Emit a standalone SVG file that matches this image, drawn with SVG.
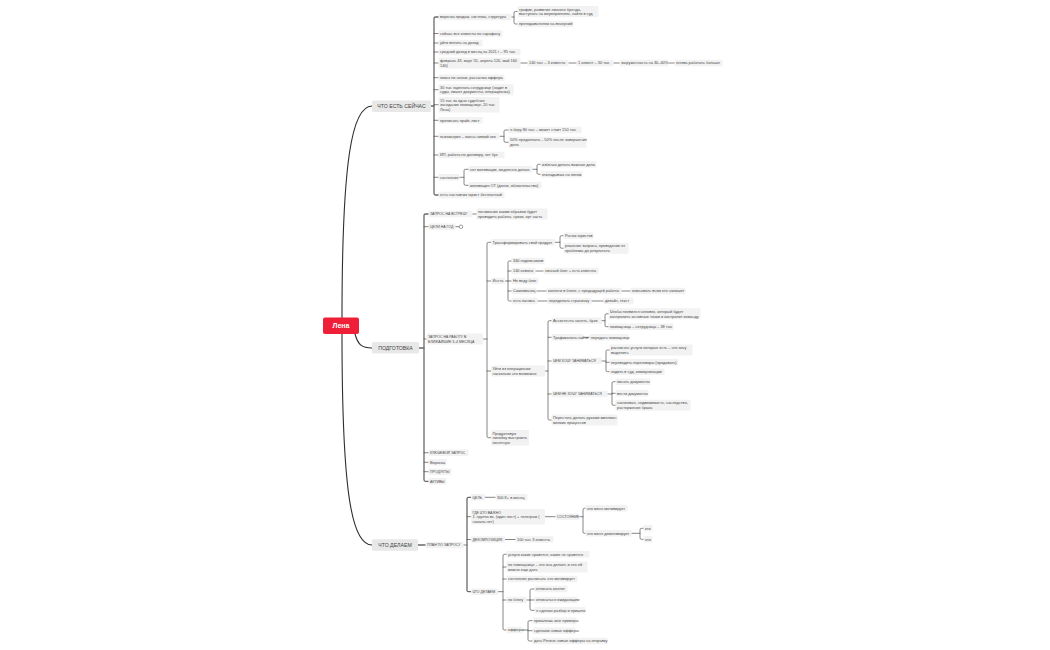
<svg xmlns="http://www.w3.org/2000/svg" width="1050" height="650" viewBox="0 0 1050 650">
<style>
text{font-family:"Liberation Sans","DejaVu Sans",Arial,sans-serif;fill:#4a4a4a}
.t{font-size:3.9px}
.u{font-size:3.5px}
.m{font-size:5.2px;text-anchor:middle;fill:#444}
.root{font-size:7px;font-weight:bold;fill:#fff;text-anchor:middle}
.r{fill:#f2f2f2}
.mr{fill:#e8e8e8}
.c{fill:none;stroke:#444;stroke-width:0.65;stroke-linecap:round}
.b{fill:none;stroke:#6a6a6a;stroke-width:1.3;stroke-linecap:round}
.k{fill:none;stroke:#2e2e2e;stroke-width:1.1;stroke-linecap:round}
</style>
<rect width="1050" height="650" fill="#ffffff"/>
<g id="connectors">
<path class="k" d="M342 318 C342 160 352 106 372 106"/>
<path class="k" d="M355 334 C358 345 362 348 372 348"/>
<path class="k" d="M342 334 C342 495 352 545 372 545"/>
<!-- A -->
<path class="b" d="M431 106 H434"/>
<path class="b" d="M438.5 17 H435.5 Q434 17 434 18.5 V193.5 Q434 195 435.5 195 H438.5"/>
<path class="c" d="M434 33.5 H438.5 M434 43 H438.5 M434 52 H438.5 M434 63 H438.5 M434 77.7 H438.5 M434 89.7 H438.5 M434 104.7 H438.5 M434 120.3 H438.5 M434 136.3 H438.5 M434 155 H438.5 M434 177.3 H438.5"/>
<path class="c" d="M511.5 17 H514 M517.5 11.5 H515.5 Q514 11.5 514 13 V22.5 Q514 24 515.5 24 H517.5"/>
<path class="c" d="M520.5 63 H527.5 M568.5 63 H576.5 M613.5 63 H619.5 M668.5 63 H674.5"/>
<path class="c" d="M499.5 136.3 H504 M508.5 130 H505.5 Q504 130 504 131.5 V140.8 Q504 142.3 505.5 142.3 H508.5"/>
<path class="c" d="M459.5 177.3 H464 M468.5 169.3 H465.5 Q464 169.3 464 170.8 V183.8 Q464 185.3 465.5 185.3 H468.5"/>
<path class="c" d="M532.5 169.3 H537 M540.5 164.3 H538.5 Q537 164.3 537 165.8 V172.8 Q537 174.3 538.5 174.3 H540.5"/>
<!-- B -->
<path class="b" d="M419 348 H424"/>
<path class="b" d="M428.5 214 H425.5 Q424 214 424 215.5 V479.8 Q424 481.3 425.5 481.3 H428.5"/>
<path class="c" d="M424 226.7 H428.5 M424 339 H426.5 M424 452.7 H428.5 M424 462.3 H428.5 M424 471.7 H428.5"/>
<path class="c" d="M472.5 214 H476.5"/>
<path class="c" d="M455 226.7 H459.2"/>
<circle cx="461" cy="226.7" r="1.8" fill="#fff" stroke="#444" stroke-width="0.5"/>
<path class="c" d="M483 339 H487 M491 242.3 H488.5 Q487 242.3 487 243.8 V436.2 Q487 437.7 488.5 437.7 H491 M487 281 H491 M487 371 H491"/>
<path class="c" d="M555 242.3 H560 M563.5 235.7 H561.5 Q560 235.7 560 237.2 V246.7 Q560 248.2 561.5 248.2 H563.5"/>
<path class="c" d="M505 281 H508 M511.5 261 H509.5 Q508 261 508 262.5 V299.5 Q508 301 509.5 301 H511.5 M508 271 H511.5 M508 281 H511.5 M508 291 H511.5"/>
<path class="c" d="M535.5 271 H543.5 M536.5 291 H546.5 M621.5 291 H630.5 M537.5 301 H547.5 M591.5 301 H603.5"/>
<path class="c" d="M545 371 H548 M551.5 320.7 H549.5 Q548 320.7 548 322.2 V418.5 Q548 420 549.5 420 H551.5 M548 337.3 H551.5 M548 361 H551.5 M548 394 H551.5"/>
<path class="c" d="M601.5 320.7 H605 M608.5 313.8 H606.5 Q605 313.8 605 315.3 V325.2 Q605 326.7 606.5 326.7 H608.5"/>
<path class="c" d="M583.5 337.3 H589.5"/>
<path class="c" d="M601.5 361 H606 M609.5 350 H607.5 Q606 350 606 351.5 V370.2 Q606 371.7 607.5 371.7 H609.5 M606 362.3 H609.5"/>
<path class="c" d="M607.5 394 H612 M615.5 381.7 H613.5 Q612 381.7 612 383.2 V403.8 Q612 405.3 613.5 405.3 H615.5 M612 393.3 H615.5"/>
<!-- E -->
<path class="b" d="M418 545 H425.5"/>
<path class="c" d="M463.5 545 H467"/>
<path class="b" d="M471 497.3 H468.5 Q467 497.3 467 498.8 V590.2 Q467 591.7 468.5 591.7 H471"/>
<path class="c" d="M467 516.7 H471 M467 539.5 H471"/>
<path class="c" d="M485 497.3 H495.5"/>
<path class="c" d="M545 516.7 H555.5 M579.5 516.7 H583 M585.5 508.3 H584.5 Q583 508.3 583 509.8 V531.8 Q583 533.3 584.5 533.3 H585.5"/>
<path class="c" d="M631.5 533.3 H640 M643.5 528.3 H641.5 Q640 528.3 640 529.8 V537.8 Q640 539.3 641.5 539.3 H643.5"/>
<path class="c" d="M505 539.5 H515.5"/>
<path class="c" d="M498 591.7 H503 M506.5 554.3 H504.5 Q503 554.3 503 555.8 V628.5 Q503 630 504.5 630 H506.5 M503 567 H506.5 M503 579 H506.5 M503 600 H506.5"/>
<path class="c" d="M526.5 600 H530 M534.5 589 H531.5 Q530 589 530 590.5 V608.8 Q530 610.3 531.5 610.3 H534.5 M530 600 H534.5"/>
<path class="c" d="M522.5 630 H528 M532.5 620.7 H529.5 Q528 620.7 528 622.2 V639.5 Q528 641 529.5 641 H532.5 M528 630.7 H532.5"/>
</g>

<g id="root"><rect x="323" y="317.5" width="36" height="16.5" rx="2" fill="#ee1f36"/><text class="root" x="341" y="328.2">Лена</text></g>

<g id="n-now"><rect class="mr" x="372" y="100.5" width="59" height="11.5" rx="1.5"/><text class="m" x="401.5" y="108.1">ЧТО ЕСТЬ СЕЙЧАС</text></g>
<g id="n-prep"><rect class="mr" x="372" y="342" width="47" height="11.5" rx="1.5"/><text class="m" x="395.5" y="349.6">ПОДГОТОВКА</text></g>
<g id="n-do"><rect class="mr" x="372" y="539.2" width="46" height="11.5" rx="1.5"/><text class="m" x="395" y="546.8">ЧТО ДЕЛАЕМ</text></g>

<!-- A children -->
<g id="a1"><rect class="r" x="438.5" y="13.8" width="73" height="6.4" rx="1"/><text class="t" x="440" y="18.4">воронка продаж, система, структура</text></g>
<g id="a1a"><rect class="r" x="517.5" y="6" width="81" height="11" rx="1"/><text class="t" x="519" y="10.6">график, развитие личного бренда,<tspan x="519" dy="4.6">выступать на мероприятиях, найти в суд</tspan></text></g>
<g id="a1b"><rect class="r" x="517.5" y="20.8" width="56" height="6.4" rx="1"/><text class="t" x="519" y="25.4">преподавателем на вечерний</text></g>
<g id="a2"><rect class="r" x="438.5" y="30.3" width="64" height="6.4" rx="1"/><text class="t" x="440" y="34.9">сейчас все клиенты по сарафану</text></g>
<g id="a3"><rect class="r" x="438.5" y="39.8" width="44" height="6.4" rx="1"/><text class="t" x="440" y="44.4">уйти вплоть на доход</text></g>
<g id="a4"><rect class="r" x="438.5" y="48.8" width="82" height="6.4" rx="1"/><text class="t" x="440" y="53.4">средний доход в месяц за 2021 г – 95 тыс</text></g>
<g id="a5"><rect class="r" x="438.5" y="57.5" width="82" height="11" rx="1"/><text class="t" x="440" y="62.1">февраль 43, март 55, апрель 120, май 160<tspan x="440" dy="4.6">140)</tspan></text></g>
<g id="a5a"><rect class="r" x="527.5" y="59.8" width="41" height="6.4" rx="1"/><text class="t" x="529" y="64.4">140 тыс – 3 клиента</text></g>
<g id="a5b"><rect class="r" x="576.5" y="59.8" width="37" height="6.4" rx="1"/><text class="t" x="578" y="64.4">1 клиент – 30 тыс</text></g>
<g id="a5c"><rect class="r" x="619.5" y="59.8" width="49" height="6.4" rx="1"/><text class="t" x="621" y="64.4">загруженность на 30–40%</text></g>
<g id="a5d"><rect class="r" x="674.5" y="59.8" width="48" height="6.4" rx="1"/><text class="t" x="676" y="64.4">готова работать больше</text></g>
<g id="a6"><rect class="r" x="438.5" y="74.5" width="66" height="6.4" rx="1"/><text class="t" x="440" y="79.1">поиск по чатам, рассылка оффера</text></g>
<g id="a7"><rect class="r" x="438.5" y="84.2" width="75" height="11" rx="1"/><text class="t" x="440" y="88.8">30 тыс зарплата сотруднице (ходит в<tspan x="440" dy="4.6">суды, пишет документы, операционка)</tspan></text></g>
<g id="a8"><rect class="r" x="438.5" y="96.9" width="61" height="15.6" rx="1"/><text class="t" x="440" y="101.5">15 тыс за одно судебное<tspan x="440" dy="4.6">заседание помощнице, 20 тыс</tspan><tspan x="440" dy="4.6">Лена)</tspan></text></g>
<g id="a9"><rect class="r" x="438.5" y="117.1" width="44" height="6.4" rx="1"/><text class="t" x="440" y="121.7">прописать прайс лист</text></g>
<g id="a10"><rect class="r" x="438.5" y="133.1" width="61" height="6.4" rx="1"/><text class="t" x="440" y="137.7">психиатрия – очень низкий чек</text></g>
<g id="a10a"><rect class="r" x="508.5" y="126.8" width="73" height="6.4" rx="1"/><text class="t" x="510" y="131.4">я беру 80 тыс – может стоит 150 тыс</text></g>
<g id="a10b"><rect class="r" x="508.5" y="136.8" width="78" height="11" rx="1"/><text class="t" x="510" y="141.4">50% предоплата – 50% после завершения<tspan x="510" dy="4.6">дела</tspan></text></g>
<g id="a11"><rect class="r" x="438.5" y="151.8" width="66" height="6.4" rx="1"/><text class="t" x="440" y="156.4">ИП, работа по договору, нет бух</text></g>
<g id="a12"><rect class="r" x="438.5" y="174.1" width="21" height="6.4" rx="1"/><text class="t" x="440" y="178.7">состояние</text></g>
<g id="a12a"><rect class="r" x="468.5" y="166.1" width="64" height="6.4" rx="1"/><text class="t" x="470" y="170.7">нет мотивации, медленно делаю</text></g>
<g id="a12a1"><rect class="r" x="540.5" y="161.1" width="56" height="6.4" rx="1"/><text class="t" x="542" y="165.7">избегаю делать важные дела</text></g>
<g id="a12a2"><rect class="r" x="540.5" y="171.1" width="42" height="6.4" rx="1"/><text class="t" x="542" y="175.7">откладываю на потом</text></g>
<g id="a12b"><rect class="r" x="468.5" y="182.1" width="73" height="6.4" rx="1"/><text class="t" x="470" y="186.7">мотивация ОТ (долги, обязательства)</text></g>
<g id="a13"><rect class="r" x="438.5" y="191.8" width="66" height="6.4" rx="1"/><text class="t" x="440" y="196.4">есть наставник юрист бесплатный</text></g>

<!-- B children -->
<g id="b1"><rect class="r" x="428.5" y="210.8" width="44" height="6.4" rx="1"/><text class="u" x="430" y="215.3">ЗАПРОС НА ВСТРЕЧУ</text></g>
<g id="b1a"><rect class="r" x="476.5" y="208.5" width="71" height="11" rx="1"/><text class="t" x="478" y="213.1">понимание каким образом будет<tspan x="478" dy="4.6">проводить работы, сроки, орг часть</tspan></text></g>
<g id="b2"><rect class="r" x="428.5" y="223.5" width="27" height="6.4" rx="1"/><text class="u" x="430" y="228">ЦЕЛИ НА ГОД</text></g>
<g id="b3"><rect class="r" x="426.5" y="333.5" width="56.5" height="11" rx="1"/><text class="u" x="428" y="338">ЗАПРОС НА РАБОТУ В<tspan x="428" dy="4.6">БЛИЖАЙШИЕ 3–4 МЕСЯЦА</tspan></text></g>
<g id="c1"><rect class="r" x="491" y="239.1" width="64" height="6.4" rx="1"/><text class="t" x="492.5" y="243.7">Трансформировать свой продукт</text></g>
<g id="c1a"><rect class="r" x="563.5" y="232.5" width="30" height="6.4" rx="1"/><text class="t" x="565" y="237.1">Рынок юристов</text></g>
<g id="c1b"><rect class="r" x="563.5" y="242.7" width="65" height="11" rx="1"/><text class="t" x="565" y="247.3">решение запроса, проведение от<tspan x="565" dy="4.6">проблемы до результата</tspan></text></g>
<g id="c2"><rect class="r" x="491" y="277.8" width="14" height="6.4" rx="1"/><text class="t" x="492.5" y="282.4">Инста</text></g>
<g id="c2a"><rect class="r" x="511.5" y="257.8" width="33" height="6.4" rx="1"/><text class="t" x="513" y="262.4">340 подписчиков</text></g>
<g id="c2b"><rect class="r" x="511.5" y="267.8" width="24" height="6.4" rx="1"/><text class="t" x="513" y="272.4">140 охваты</text></g>
<g id="c2b1"><rect class="r" x="543.5" y="267.8" width="55" height="6.4" rx="1"/><text class="t" x="545" y="272.4">личный блог + есть клиенты</text></g>
<g id="c2c"><rect class="r" x="511.5" y="277.8" width="27" height="6.4" rx="1"/><text class="t" x="513" y="282.4">Не веду блог</text></g>
<g id="c2d"><rect class="r" x="511.5" y="287.8" width="25" height="6.4" rx="1"/><text class="t" x="513" y="292.4">Самозванец</text></g>
<g id="c2d1"><rect class="r" x="546.5" y="287.8" width="75" height="6.4" rx="1"/><text class="t" x="548" y="292.4">коллеги в блоге, с предыдущей работы</text></g>
<g id="c2d2"><rect class="r" x="630.5" y="287.8" width="55" height="6.4" rx="1"/><text class="t" x="632" y="292.4">описывать всем кто напишет</text></g>
<g id="c2e"><rect class="r" x="511.5" y="297.8" width="26" height="6.4" rx="1"/><text class="t" x="513" y="302.4">есть паника</text></g>
<g id="c2e1"><rect class="r" x="547.5" y="297.8" width="44" height="6.4" rx="1"/><text class="t" x="549" y="302.4">переделать страничку</text></g>
<g id="c2e2"><rect class="r" x="603.5" y="297.8" width="30" height="6.4" rx="1"/><text class="t" x="605" y="302.4">дизайн, текст</text></g>
<g id="c3"><rect class="r" x="491" y="365.5" width="54" height="11" rx="1"/><text class="t" x="492.5" y="370.1">Уйти из операционки<tspan x="492.5" dy="4.6">насколько это возможно</tspan></text></g>
<g id="d1"><rect class="r" x="551.5" y="317.5" width="50" height="6.4" rx="1"/><text class="t" x="553" y="322.1">Ассистента нанять, бухи</text></g>
<g id="d1a"><rect class="r" x="608.5" y="308.3" width="92" height="11" rx="1"/><text class="t" x="610" y="312.9">Чтобы появился человек, который будет<tspan x="610" dy="4.6">контролить основные точки и контролит команду</tspan></text></g>
<g id="d1b"><rect class="r" x="608.5" y="323.5" width="65" height="6.4" rx="1"/><text class="t" x="610" y="328.1">помощница – сотрудница – 38 тыс</text></g>
<g id="d2"><rect class="r" x="551.5" y="334.1" width="32" height="6.4" rx="1"/><text class="t" x="553" y="338.7">Трафиколога найти</text></g>
<g id="d2a"><rect class="r" x="589.5" y="334.1" width="39" height="6.4" rx="1"/><text class="t" x="591" y="338.7">передать помощнице</text></g>
<g id="d3"><rect class="r" x="551.5" y="357.8" width="50" height="6.4" rx="1"/><text class="u" x="553" y="362.3">ЧЕМ ХОЧУ ЗАНИМАТЬСЯ</text></g>
<g id="d3a"><rect class="r" x="609.5" y="344.5" width="83" height="11" rx="1"/><text class="t" x="611" y="349.1">расписать услуги которые есть – что хочу<tspan x="611" dy="4.6">выделить</tspan></text></g>
<g id="d3b"><rect class="r" x="609.5" y="359.1" width="69" height="6.4" rx="1"/><text class="t" x="611" y="363.7">переводить переговоры (продавать)</text></g>
<g id="d3c"><rect class="r" x="609.5" y="368.5" width="55" height="6.4" rx="1"/><text class="t" x="611" y="373.1">ходить в суд, коммуникации</text></g>
<g id="d4"><rect class="r" x="551.5" y="390.8" width="56" height="6.4" rx="1"/><text class="u" x="553" y="395.3">ЧЕМ НЕ ХОЧУ ЗАНИМАТЬСЯ</text></g>
<g id="d4a"><rect class="r" x="615.5" y="378.5" width="35" height="6.4" rx="1"/><text class="t" x="617" y="383.1">писать документы</text></g>
<g id="d4b"><rect class="r" x="615.5" y="390.1" width="33" height="6.4" rx="1"/><text class="t" x="617" y="394.7">вести документы</text></g>
<g id="d4c"><rect class="r" x="615.5" y="399.8" width="75" height="11" rx="1"/><text class="t" x="617" y="404.4">налоговая, недвижимость, наследство,<tspan x="617" dy="4.6">расторжение брака</tspan></text></g>
<g id="d5"><rect class="r" x="551.5" y="414.5" width="66" height="11" rx="1"/><text class="t" x="553" y="419.1">Перестать делать руками миллион<tspan x="553" dy="4.6">мелких процессов</tspan></text></g>
<g id="c4"><rect class="r" x="491" y="429.9" width="38" height="15.6" rx="1"/><text class="t" x="492.5" y="434.5">Продуктовую<tspan x="492.5" dy="4.6">линейку выстроить</tspan><tspan x="492.5" dy="4.6">понятную</tspan></text></g>
<g id="b4"><rect class="r" x="428.5" y="449.5" width="40" height="6.4" rx="1"/><text class="u" x="430" y="454">КЛЮЧЕВОЙ ЗАПРОС</text></g>
<g id="b5"><rect class="r" x="428.5" y="459.1" width="18" height="6.4" rx="1"/><text class="t" x="430" y="463.7">Воронка</text></g>
<g id="b6"><rect class="r" x="428.5" y="468.5" width="23" height="6.4" rx="1"/><text class="u" x="430" y="473">ПРОДУКТЫ</text></g>
<g id="b7"><rect class="r" x="428.5" y="478.1" width="18" height="6.4" rx="1"/><text class="u" x="430" y="482.6">АКТИВЫ</text></g>

<!-- E children -->
<g id="e0"><rect class="r" x="425.5" y="541.8" width="38" height="6.4" rx="1"/><text class="u" x="427" y="546.3">ПЛАН ПО ЗАПРОСУ</text></g>
<g id="e1"><rect class="r" x="471" y="494.1" width="14" height="6.4" rx="1"/><text class="u" x="472.5" y="498.6">ЦЕЛЬ</text></g>
<g id="e1a"><rect class="r" x="495.5" y="494.1" width="32" height="6.4" rx="1"/><text class="t" x="497" y="498.7">300 К+ в месяц</text></g>
<g id="e2"><rect class="r" x="471" y="508.9" width="74" height="15.6" rx="1"/><text class="t" x="472.5" y="513.5"><tspan class="u">ГДЕ ЧТО ВАЖНО</tspan><tspan x="472.5" dy="4.6">1. группа вк, (один пост) + телеграм (</tspan><tspan x="472.5" dy="4.6">начала нет)</tspan></text></g>
<g id="e2a"><rect class="r" x="555.5" y="513.5" width="24" height="6.4" rx="1"/><text class="u" x="557" y="518">СОСТОЯНИЕ</text></g>
<g id="e2a1"><rect class="r" x="585.5" y="505.1" width="42" height="6.4" rx="1"/><text class="t" x="587" y="509.7">что меня мотивирует</text></g>
<g id="e2a2"><rect class="r" x="585.5" y="530.1" width="46" height="6.4" rx="1"/><text class="t" x="587" y="534.7">что меня демотивирует</text></g>
<g id="e2a2a"><rect class="r" x="643.5" y="525.1" width="9" height="6.4" rx="1"/><text class="t" x="645" y="529.7">кто</text></g>
<g id="e2a2b"><rect class="r" x="643.5" y="536.1" width="9" height="6.4" rx="1"/><text class="t" x="645" y="540.7">что</text></g>
<g id="e3"><rect class="r" x="471" y="536.3" width="34" height="6.4" rx="1"/><text class="u" x="472.5" y="540.8">ДЕКОМПОЗИЦИЯ</text></g>
<g id="e3a"><rect class="r" x="515.5" y="536.3" width="38" height="6.4" rx="1"/><text class="t" x="517" y="540.9">100 тыс 3 клиента</text></g>
<g id="e4"><rect class="r" x="471" y="588.5" width="27" height="6.4" rx="1"/><text class="u" x="472.5" y="593">ЧТО ДЕЛАЕМ</text></g>
<g id="e4a"><rect class="r" x="506.5" y="551.1" width="83" height="6.4" rx="1"/><text class="t" x="508" y="555.7">услуги какие нравятся, какие не нравятся</text></g>
<g id="e4b"><rect class="r" x="506.5" y="561.5" width="81" height="11" rx="1"/><text class="t" x="508" y="566.1">по помощнице – что она делает, и что ей<tspan x="508" dy="4.6">можно еще дать</tspan></text></g>
<g id="e4c"><rect class="r" x="506.5" y="575.8" width="71" height="6.4" rx="1"/><text class="t" x="508" y="580.4">состояние расписать что мотивирует</text></g>
<g id="e4d"><rect class="r" x="506.5" y="596.8" width="20" height="6.4" rx="1"/><text class="t" x="508" y="601.4">по блогу</text></g>
<g id="e4d1"><rect class="r" x="534.5" y="585.8" width="33" height="6.4" rx="1"/><text class="t" x="536" y="590.4">отписать коллег</text></g>
<g id="e4d2"><rect class="r" x="534.5" y="596.8" width="43" height="6.4" rx="1"/><text class="t" x="536" y="601.4">отписаться ожидающим</text></g>
<g id="e4d3"><rect class="r" x="534.5" y="607.1" width="51" height="6.4" rx="1"/><text class="t" x="536" y="611.7">я сделаю разбор и пришлю</text></g>
<g id="e4e"><rect class="r" x="506.5" y="626.8" width="16" height="6.4" rx="1"/><text class="t" x="508" y="631.4">офферы</text></g>
<g id="e4e1"><rect class="r" x="532.5" y="617.5" width="44" height="6.4" rx="1"/><text class="t" x="534" y="622.1">пришлешь мне примеры</text></g>
<g id="e4e2"><rect class="r" x="532.5" y="627.5" width="43" height="6.4" rx="1"/><text class="t" x="534" y="632.1">сделаем новые офферы</text></g>
<g id="e4e3"><rect class="r" x="532.5" y="637.8" width="75" height="6.4" rx="1"/><text class="t" x="534" y="642.4">дать Регине новые офферы на отправку</text></g>
</svg>
